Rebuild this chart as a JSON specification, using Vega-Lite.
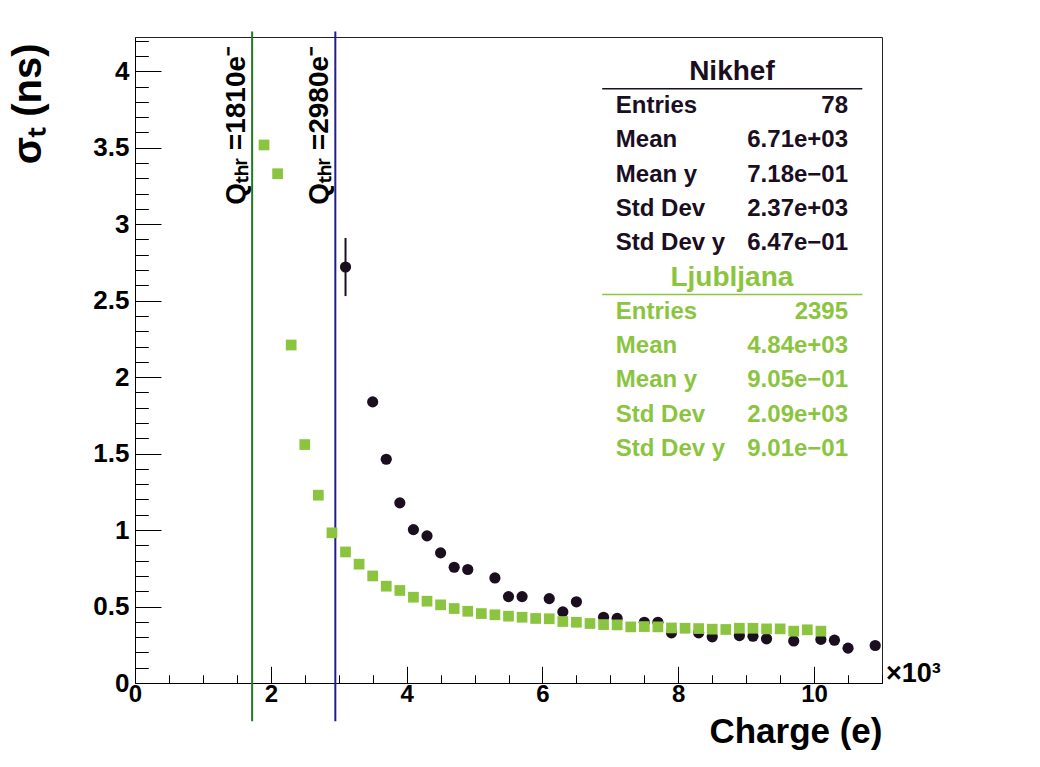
{
  "$schema": "https://vega.github.io/schema/vega-lite/v6.json",
  "width": 747,
  "height": 646,
  "autosize": {"type": "none"},
  "padding": {"left": 135, "top": 37, "right": 158, "bottom": 84},
  "background": "white",
  "config": {
    "view": {"stroke": "#222222", "strokeWidth": 1},
    "font": "Liberation Sans",
    "axis": {
      "grid": false,
      "domainColor": "#000000",
      "domainWidth": 1,
      "tickColor": "#000000",
      "tickWidth": 1,
      "labelFont": "Liberation Sans",
      "labelFontWeight": "bold",
      "labelFontSize": 26,
      "labelColor": "#000000",
      "labelOverlap": false,
      "labelFlush": false,
      "titleFont": "Liberation Sans",
      "titleFontWeight": "bold",
      "titleColor": "#000000"
    }
  },
  "datasets": {
    "points": [
      {"det": "Nikhef", "q": 3.1, "s": 2.72, "lo": 2.53, "hi": 2.91},
      {"det": "Nikhef", "q": 3.5, "s": 1.838},
      {"det": "Nikhef", "q": 3.7, "s": 1.463},
      {"det": "Nikhef", "q": 3.9, "s": 1.178},
      {"det": "Nikhef", "q": 4.1, "s": 1.003},
      {"det": "Nikhef", "q": 4.3, "s": 0.962},
      {"det": "Nikhef", "q": 4.5, "s": 0.851},
      {"det": "Nikhef", "q": 4.7, "s": 0.757},
      {"det": "Nikhef", "q": 4.9, "s": 0.742},
      {"det": "Nikhef", "q": 5.3, "s": 0.687},
      {"det": "Nikhef", "q": 5.5, "s": 0.565},
      {"det": "Nikhef", "q": 5.7, "s": 0.565},
      {"det": "Nikhef", "q": 6.1, "s": 0.552},
      {"det": "Nikhef", "q": 6.3, "s": 0.465},
      {"det": "Nikhef", "q": 6.5, "s": 0.531},
      {"det": "Nikhef", "q": 6.9, "s": 0.43},
      {"det": "Nikhef", "q": 7.1, "s": 0.422},
      {"det": "Nikhef", "q": 7.5, "s": 0.397},
      {"det": "Nikhef", "q": 7.7, "s": 0.397},
      {"det": "Nikhef", "q": 7.9, "s": 0.328},
      {"det": "Nikhef", "q": 8.3, "s": 0.328},
      {"det": "Nikhef", "q": 8.5, "s": 0.302},
      {"det": "Nikhef", "q": 8.9, "s": 0.31},
      {"det": "Nikhef", "q": 9.1, "s": 0.306},
      {"det": "Nikhef", "q": 9.3, "s": 0.289},
      {"det": "Nikhef", "q": 9.7, "s": 0.275},
      {"det": "Nikhef", "q": 10.1, "s": 0.285},
      {"det": "Nikhef", "q": 10.3, "s": 0.28},
      {"det": "Nikhef", "q": 10.5, "s": 0.228},
      {"det": "Nikhef", "q": 10.9, "s": 0.245},
      {"det": "Ljubljana", "q": 1.9, "s": 3.518},
      {"det": "Ljubljana", "q": 2.1, "s": 3.33},
      {"det": "Ljubljana", "q": 2.3, "s": 2.21},
      {"det": "Ljubljana", "q": 2.5, "s": 1.559},
      {"det": "Ljubljana", "q": 2.7, "s": 1.228},
      {"det": "Ljubljana", "q": 2.9, "s": 0.982},
      {"det": "Ljubljana", "q": 3.1, "s": 0.857},
      {"det": "Ljubljana", "q": 3.3, "s": 0.777},
      {"det": "Ljubljana", "q": 3.5, "s": 0.7},
      {"det": "Ljubljana", "q": 3.7, "s": 0.633},
      {"det": "Ljubljana", "q": 3.9, "s": 0.605},
      {"det": "Ljubljana", "q": 4.1, "s": 0.561},
      {"det": "Ljubljana", "q": 4.3, "s": 0.535},
      {"det": "Ljubljana", "q": 4.5, "s": 0.511},
      {"det": "Ljubljana", "q": 4.7, "s": 0.487},
      {"det": "Ljubljana", "q": 4.9, "s": 0.469},
      {"det": "Ljubljana", "q": 5.1, "s": 0.454},
      {"det": "Ljubljana", "q": 5.3, "s": 0.446},
      {"det": "Ljubljana", "q": 5.5, "s": 0.437},
      {"det": "Ljubljana", "q": 5.7, "s": 0.43},
      {"det": "Ljubljana", "q": 5.9, "s": 0.422},
      {"det": "Ljubljana", "q": 6.1, "s": 0.42},
      {"det": "Ljubljana", "q": 6.3, "s": 0.402},
      {"det": "Ljubljana", "q": 6.5, "s": 0.397},
      {"det": "Ljubljana", "q": 6.7, "s": 0.389},
      {"det": "Ljubljana", "q": 6.9, "s": 0.382},
      {"det": "Ljubljana", "q": 7.1, "s": 0.38},
      {"det": "Ljubljana", "q": 7.3, "s": 0.367},
      {"det": "Ljubljana", "q": 7.5, "s": 0.369},
      {"det": "Ljubljana", "q": 7.7, "s": 0.367},
      {"det": "Ljubljana", "q": 7.9, "s": 0.36},
      {"det": "Ljubljana", "q": 8.1, "s": 0.358},
      {"det": "Ljubljana", "q": 8.3, "s": 0.356},
      {"det": "Ljubljana", "q": 8.5, "s": 0.352},
      {"det": "Ljubljana", "q": 8.7, "s": 0.35},
      {"det": "Ljubljana", "q": 8.9, "s": 0.358},
      {"det": "Ljubljana", "q": 9.1, "s": 0.358},
      {"det": "Ljubljana", "q": 9.3, "s": 0.354},
      {"det": "Ljubljana", "q": 9.5, "s": 0.354},
      {"det": "Ljubljana", "q": 9.7, "s": 0.339},
      {"det": "Ljubljana", "q": 9.9, "s": 0.348},
      {"det": "Ljubljana", "q": 10.1, "s": 0.339}
    ],
    "thresholds": [
      {"det": "Ljubljana", "q": 1.725, "label": "Qₜₕᵣ =1810e⁻"},
      {"det": "Nikhef", "q": 2.95, "label": "Qₜₕᵣ =2980e⁻"}
    ],
    "stats": [
      {"det": "Nikhef", "row": 0, "kind": "title", "label": "Nikhef", "value": ""},
      {"det": "Nikhef", "row": 1, "kind": "entry", "label": "Entries", "value": "78"},
      {"det": "Nikhef", "row": 2, "kind": "entry", "label": "Mean", "value": "6.71e+03"},
      {"det": "Nikhef", "row": 3, "kind": "entry", "label": "Mean y", "value": "7.18e−01"},
      {"det": "Nikhef", "row": 4, "kind": "entry", "label": "Std Dev", "value": "2.37e+03"},
      {"det": "Nikhef", "row": 5, "kind": "entry", "label": "Std Dev y", "value": "6.47e−01"},
      {"det": "Ljubljana", "row": 6, "kind": "title", "label": "Ljubljana", "value": ""},
      {"det": "Ljubljana", "row": 7, "kind": "entry", "label": "Entries", "value": "2395"},
      {"det": "Ljubljana", "row": 8, "kind": "entry", "label": "Mean", "value": "4.84e+03"},
      {"det": "Ljubljana", "row": 9, "kind": "entry", "label": "Mean y", "value": "9.05e−01"},
      {"det": "Ljubljana", "row": 10, "kind": "entry", "label": "Std Dev", "value": "2.09e+03"},
      {"det": "Ljubljana", "row": 11, "kind": "entry", "label": "Std Dev y", "value": "9.01e−01"}
    ]
  },
  "layer": [
    {
      "layer": [
        {
          "data": {"name": "thresholds"},
          "mark": {"type": "rule", "strokeWidth": 2},
          "encoding": {
            "x": {
              "field": "q",
              "type": "quantitative",
              "scale": {"domain": [0, 11], "nice": false, "zero": false},
              "axis": {
                "orient": "bottom",
                "values": [0, 0.5, 1, 1.5, 2, 2.5, 3, 3.5, 4, 4.5, 5, 5.5, 6, 6.5, 7, 7.5, 8, 8.5, 9, 9.5, 10, 10.5, 11],
                "tickSize": -8.3,
                "labels": false,
                "domain": false,
                "title": null
              }
            },
            "y": {
              "datum": -0.25,
              "type": "quantitative",
              "scale": {"domain": [0, 4.224], "nice": false, "zero": false},
              "axis": {
                "orient": "left",
                "values": [0, 0.1, 0.2, 0.3, 0.4, 0.5, 0.6, 0.7, 0.8, 0.9, 1, 1.1, 1.2, 1.3, 1.4, 1.5, 1.6, 1.7, 1.8, 1.9, 2, 2.1, 2.2, 2.3, 2.4, 2.5, 2.6, 2.7, 2.8, 2.9, 3, 3.1, 3.2, 3.3, 3.4, 3.5, 3.6, 3.7, 3.8, 3.9, 4, 4.1, 4.2],
                "tickSize": -13.3,
                "labels": false,
                "domain": false,
                "title": null
              }
            },
            "y2": {"datum": 4.26},
            "stroke": {
              "field": "det",
              "type": "nominal",
              "scale": {"domain": ["Ljubljana", "Nikhef"], "range": ["#1e7b1e", "#1f1f8c"]},
              "legend": null
            }
          }
        },
        {
          "data": {"name": "thresholds"},
          "mark": {"type": "text", "angle": 270, "align": "left", "baseline": "alphabetic", "dy": -7, "fontSize": 28, "fontWeight": "bold", "color": "#000000"},
          "encoding": {
            "x": {"field": "q", "type": "quantitative", "axis": null},
            "y": {"datum": 3.127, "type": "quantitative", "axis": null},
            "text": {"field": "label"}
          }
        },
        {
          "data": {"name": "points"},
          "transform": [{"filter": "isValid(datum.lo)"}],
          "mark": {"type": "rule", "strokeWidth": 2, "color": "#1a0e1f"},
          "encoding": {
            "x": {"field": "q", "type": "quantitative", "axis": null},
            "y": {"field": "lo", "type": "quantitative", "axis": null},
            "y2": {"field": "hi"}
          }
        },
        {
          "data": {"name": "points"},
          "mark": {"type": "point", "filled": true, "opacity": 1},
          "encoding": {
            "x": {
              "field": "q",
              "type": "quantitative",
              "axis": {
                "orient": "bottom",
                "values": [0, 2, 4, 6, 8, 10],
                "tickSize": -16.7,
                "labelPadding": 16,
                "labelFontSize": 24,
                "labelBaseline": "top",
                "domain": true,
                "title": "Charge (e)",
                "titleFontSize": 35,
                "titleAlign": "right",
                "titleAnchor": "end",
                "titleBaseline": "alphabetic",
                "titleX": 747,
                "titleY": 59
              }
            },
            "y": {
              "field": "s",
              "type": "quantitative",
              "axis": {
                "orient": "left",
                "values": [0, 0.5, 1, 1.5, 2, 2.5, 3, 3.5, 4],
                "format": "~g",
                "tickSize": -26,
                "labelPadding": 32,
                "domain": true,
                "title": "σₜ (ns)",
                "titleFontSize": 40,
                "titleAngle": 270,
                "titleAlign": "right",
                "titleBaseline": "alphabetic",
                "titleX": -95,
                "titleY": 6
              }
            },
            "color": {
              "field": "det",
              "type": "nominal",
              "scale": {"domain": ["Nikhef", "Ljubljana"], "range": ["#1a0e1f", "#8bc53f"]},
              "legend": null
            },
            "shape": {
              "field": "det",
              "type": "nominal",
              "scale": {"domain": ["Nikhef", "Ljubljana"], "range": ["circle", "square"]},
              "legend": null
            },
            "size": {
              "field": "det",
              "type": "nominal",
              "scale": {"domain": ["Nikhef", "Ljubljana"], "range": [125, 115]},
              "legend": null
            }
          }
        },
        {
          "data": {"values": [{"label": "×10³"}]},
          "mark": {"type": "text", "align": "left", "baseline": "alphabetic", "dx": 4, "dy": -1, "fontSize": 27, "fontWeight": "bold", "color": "#000000"},
          "encoding": {
            "x": {"datum": 11, "type": "quantitative", "axis": null},
            "y": {"datum": 0, "type": "quantitative", "axis": null},
            "text": {"field": "label"}
          }
        }
      ],
      "resolve": {"axis": {"x": "independent", "y": "independent"}}
    },
    {
      "data": {"name": "stats"},
      "encoding": {
        "y": {
          "field": "row",
          "type": "quantitative",
          "scale": {"domain": [-1.012, 17.822], "reverse": true, "nice": false, "zero": false},
          "axis": null
        },
        "color": {
          "field": "det",
          "type": "nominal",
          "scale": {"domain": ["Nikhef", "Ljubljana"], "range": ["#1a0e1f", "#8bc53f"]},
          "legend": null
        }
      },
      "layer": [
        {
          "transform": [{"filter": "datum.kind == 'title'"}],
          "mark": {"type": "text", "align": "center", "baseline": "middle", "fontSize": 28, "fontWeight": "bold"},
          "encoding": {
            "x": {"datum": 8.79, "type": "quantitative", "axis": null},
            "text": {"field": "label"}
          }
        },
        {
          "transform": [{"filter": "datum.kind == 'title'"}],
          "mark": {"type": "rule", "strokeWidth": 1.5},
          "encoding": {
            "x": {"datum": 6.88, "type": "quantitative", "axis": null},
            "x2": {"datum": 10.71},
            "yOffset": {"value": 17}
          }
        },
        {
          "transform": [{"filter": "datum.kind == 'entry'"}],
          "mark": {"type": "text", "align": "left", "baseline": "middle", "fontSize": 24, "fontWeight": "bold"},
          "encoding": {
            "x": {"datum": 7.08, "type": "quantitative", "axis": null},
            "text": {"field": "label"}
          }
        },
        {
          "transform": [{"filter": "datum.kind == 'entry'"}],
          "mark": {"type": "text", "align": "right", "baseline": "middle", "fontSize": 24, "fontWeight": "bold"},
          "encoding": {
            "x": {"datum": 10.5, "type": "quantitative", "axis": null},
            "text": {"field": "value"}
          }
        }
      ]
    }
  ],
  "resolve": {"scale": {"y": "independent"}, "axis": {"x": "independent", "y": "independent"}}
}
